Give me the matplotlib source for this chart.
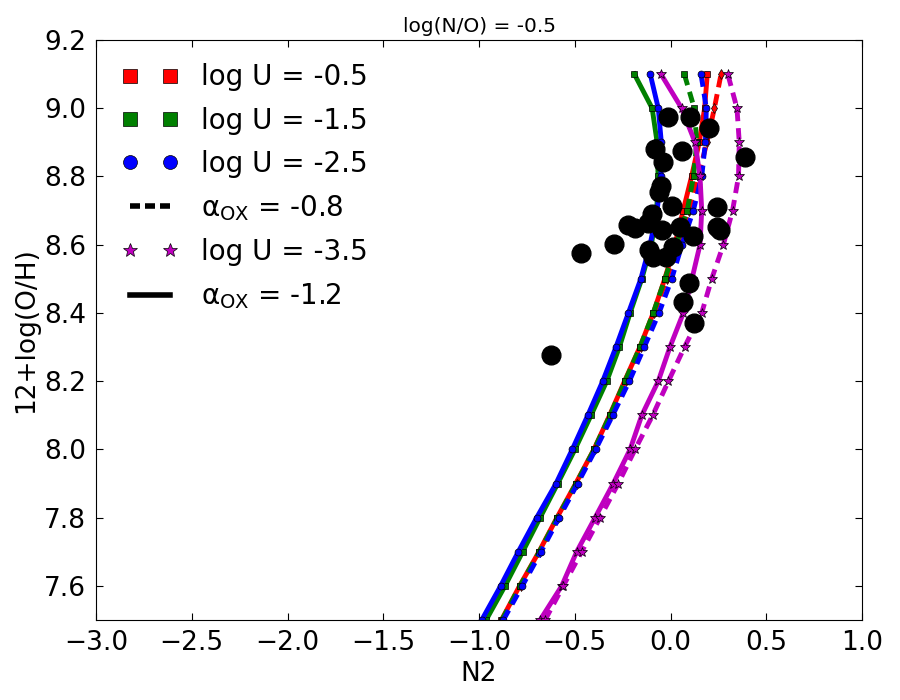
import numpy as np
import matplotlib as mpl
mpl.use('Agg')
import matplotlib.pyplot as plt
from matplotlib.lines import Line2D
from matplotlib.legend_handler import HandlerLine2D

mpl.rcParams['font.size'] = 19
mpl.rcParams['mathtext.default'] = 'regular'
mpl.rcParams['xtick.direction'] = 'in'
mpl.rcParams['ytick.direction'] = 'in'
mpl.rcParams['xtick.top'] = True
mpl.rcParams['ytick.right'] = True
mpl.rcParams['axes.unicode_minus'] = True
mpl.rcParams['lines.scale_dashes'] = False

# 12+log(O/H) grid of the photoionisation models
oh = [7.5, 7.6, 7.7, 7.8, 7.9, 8.0, 8.1, 8.2, 8.3, 8.4, 8.5, 8.6, 8.7, 8.8, 8.9, 9.0, 9.1]

# N2 for each log U, alpha_OX = -1.2 (solid) and -0.8 (dashed)
n2_u05_a12 = [-0.883, -0.788, -0.687, -0.593, -0.495, -0.400, -0.318, -0.240, -0.160, -0.090,
              -0.030, 0.023, 0.066, 0.110, 0.150, 0.178, 0.192]
n2_u05_a08 = [-0.878, -0.783, -0.682, -0.587, -0.490, -0.395, -0.310, -0.232, -0.155, -0.085,
              -0.020, 0.040, 0.095, 0.145, 0.190, 0.229, 0.264]
n2_u15_a12 = [-0.963, -0.864, -0.772, -0.681, -0.589, -0.499, -0.415, -0.333, -0.267, -0.211,
              -0.150, -0.100, -0.072, -0.065, -0.070, -0.096, -0.189]
n2_u15_a08 = [-0.881, -0.786, -0.685, -0.591, -0.493, -0.399, -0.316, -0.238, -0.159, -0.090,
              -0.029, 0.030, 0.087, 0.120, 0.137, 0.124, 0.072]
n2_u25_a12 = [-0.986, -0.887, -0.795, -0.699, -0.598, -0.513, -0.432, -0.354, -0.285, -0.220,
              -0.155, -0.107, -0.070, -0.050, -0.048, -0.064, -0.106]
n2_u25_a08 = [-0.873, -0.774, -0.676, -0.582, -0.485, -0.391, -0.302, -0.215, -0.137, -0.060,
              0.006, 0.060, 0.119, 0.163, 0.182, 0.187, 0.159]
n2_u35_a12 = [-0.681, -0.568, -0.490, -0.394, -0.299, -0.211, -0.150, -0.064, -0.003, 0.067,
              0.112, 0.154, 0.163, 0.154, 0.128, 0.058, -0.050]
n2_u35_a08 = [-0.655, -0.560, -0.464, -0.368, -0.273, -0.185, -0.093, -0.011, 0.073, 0.163,
              0.215, 0.276, 0.324, 0.355, 0.359, 0.347, 0.299]

# observed galaxies
obs_n2 = [-0.015, 0.103, 0.203, -0.083, 0.058, 0.389, -0.038, -0.051, -0.060, 0.010,
          0.244, -0.098, -0.220, -0.185, -0.116, -0.046, 0.050, 0.241, 0.258, 0.116,
          -0.293, -0.467, -0.111, -0.090, -0.023, 0.015, 0.098, 0.067, 0.124, -0.624]
obs_oh = [8.973, 8.973, 8.941, 8.881, 8.875, 8.858, 8.842, 8.772, 8.755, 8.713,
          8.711, 8.691, 8.658, 8.648, 8.663, 8.643, 8.653, 8.653, 8.643, 8.626,
          8.602, 8.575, 8.585, 8.565, 8.565, 8.594, 8.487, 8.431, 8.370, 8.277]

fig = plt.figure(figsize=(9, 7), dpi=100)
ax = fig.add_axes([0.1067, 0.1143, 0.8511, 0.8286])

dash = (0, (8, 5))
lw = 3.5
ms = 5
curves = [
    (n2_u05_a12, 'r', 's', '-'),
    (n2_u05_a08, 'r', 'd', dash),
    (n2_u15_a12, 'g', 's', '-'),
    (n2_u15_a08, 'g', 's', dash),
    (n2_u25_a12, 'b', 'o', '-'),
    (n2_u25_a08, 'b', 'o', dash),
    (n2_u35_a12, 'm', '*', '-'),
    (n2_u35_a08, 'm', '*', dash),
]
for n2, col, mk, ls in curves:
    ax.plot(n2, oh, color=col, ls=ls, lw=lw, marker=mk, ms=ms + (2 if mk == '*' else 0),
            mfc=col, mec='k', mew=0.5)

ax.plot(obs_n2, obs_oh, 'o', color='k', ms=13.5, mec='k', zorder=5)

ax.set_xlim(-3.0, 1.0)
ax.set_ylim(7.5, 9.2)
ax.set_xticks(np.arange(-3.0, 1.01, 0.5))
ax.set_yticks(np.arange(7.6, 9.21, 0.2))
ax.tick_params(length=5, width=0.8, pad=7)
ax.set_xlabel('N2')
ax.set_ylabel('12+log(O/H)')
ax.set_title('log(N/O) = -0.5', fontsize=14.5)

handles = [
    Line2D([], [], ls='None', marker='s', color='r', mec='k', mew=0.5, ms=10),
    Line2D([], [], ls='None', marker='s', color='g', mec='k', mew=0.5, ms=10),
    Line2D([], [], ls='None', marker='o', color='b', mec='k', mew=0.5, ms=10),
    Line2D([], [], ls=(0, (7.2, 3.6)), color='k', lw=4),
    Line2D([], [], ls='None', marker='*', color='m', mec='k', mew=0.5, ms=10),
    Line2D([], [], ls='-', color='k', lw=4),
]
labels = ['log U = -0.5', 'log U = -1.5', 'log U = -2.5', r'$\alpha_{\rm OX}$ = -0.8',
          'log U = -3.5', r'$\alpha_{\rm OX}$ = -1.2']
ax.legend(handles, labels, loc='upper left', bbox_to_anchor=(0.03, 0.979), borderaxespad=0,
          frameon=False, numpoints=2, fontsize=20, labelspacing=0.55, handlelength=1.45,
          handletextpad=1.1, handler_map={Line2D: HandlerLine2D(marker_pad=0)})

fig.savefig('out.png', dpi=100)
